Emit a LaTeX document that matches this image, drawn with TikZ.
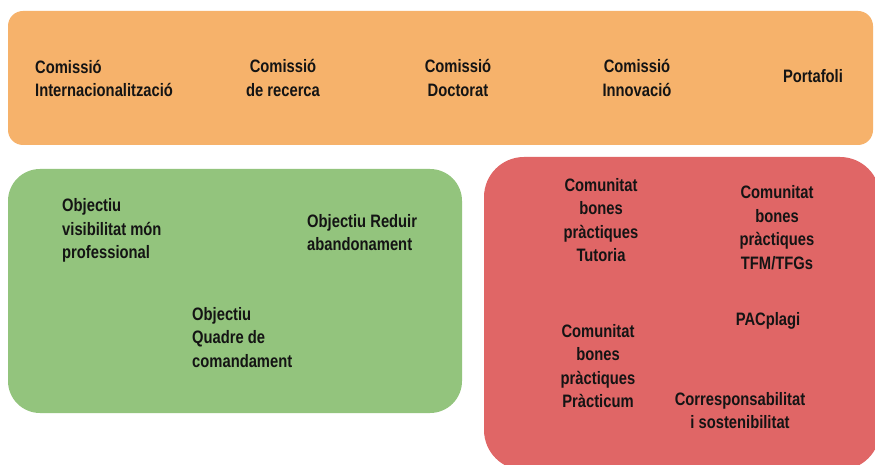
\documentclass[tikz,border=0pt]{standalone}
\usepackage{fontspec}
\setmainfont{Liberation Sans}[FakeStretch=0.82]
\definecolor{orangebox}{HTML}{F6B26B}
\definecolor{greenbox}{HTML}{93C47D}
\definecolor{redbox}{HTML}{E06666}
\begin{document}
\begin{tikzpicture}[x=1pt,y=-1pt,
  lbl/.style={inner sep=0pt, font=\fontsize{18}{23.5}\selectfont\bfseries, text=black!92},
  lblc/.style={lbl, align=center},
  lbll/.style={lbl, align=left, anchor=west},
  panel/.style={draw=none}]
\useasboundingbox (0,0) rectangle (875,465);
\fill[white] (0,0) rectangle (875,465);
% panels
\fill[orangebox, rounded corners=15pt] (8,11) rectangle (873,145);
\fill[greenbox, rounded corners=32pt] (8,169) rectangle (462,413);
\begin{scope}
\clip (0,0) rectangle (875,465);
\fill[redbox, rounded corners=40pt] (484,157) rectangle (880,470);
\end{scope}
% top row
\node[lbll] (ci) at (35,78.5) {Comissió\\Internacionalització};
\node[lblc] (cr) at (283,78) {Comissió\\de recerca};
\node[lblc] (cd) at (458,78) {Comissió\\Doctorat};
\node[lblc] (cin) at (637,78) {Comissió\\Innovació};
\node[lblc] (pf) at (813,76) {Portafoli};
% green
\node[lbll] (ov) at (62,230.5) {Objectiu\\visibilitat món\\professional};
\node[lbll] (ora) at (307,232.5) {Objectiu Reduir\\abandonament};
\node[lbll] (oq) at (192,337.5) {Objectiu\\Quadre de\\comandament};
% red
\node[lblc] (ct) at (601,220) {Comunitat\\bones\\pràctiques\\Tutoria};
\node[lblc] (cf) at (777,227.5) {Comunitat\\bones\\pràctiques\\TFM/TFGs};
\node[lblc] (pac) at (768,321) {PACplagi};
\node[lblc] (cp) at (598,366) {Comunitat\\bones\\pràctiques\\Pràcticum};
\node[lblc] (cs) at (740,410.5) {Corresponsabilitat\\i sostenibilitat};
\end{tikzpicture}
\end{document}
